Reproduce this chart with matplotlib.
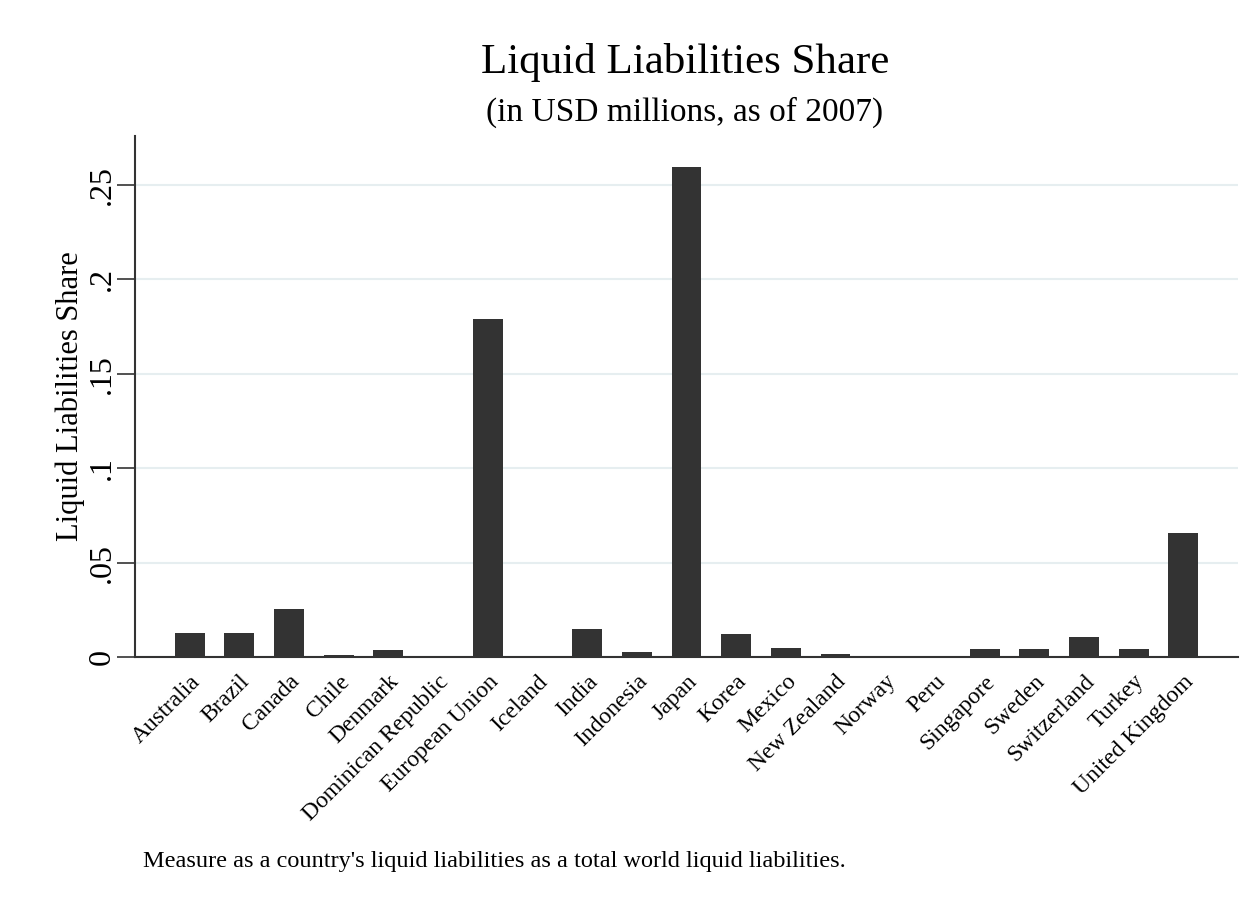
import matplotlib
matplotlib.use("Agg")
import matplotlib.pyplot as plt

countries = ["Australia", "Brazil", "Canada", "Chile", "Denmark", "Dominican Republic",
             "European Union", "Iceland", "India", "Indonesia", "Japan", "Korea", "Mexico",
             "New Zealand", "Norway", "Peru", "Singapore", "Sweden", "Switzerland",
             "Turkey", "United Kingdom"]
shares = [0.0127, 0.0127, 0.0256, 0.0010, 0.0035, 0.0005, 0.179, 0.0, 0.0148, 0.0025,
          0.2595, 0.0122, 0.0048, 0.0017, 0.0, 0.0005, 0.0042, 0.0042, 0.0106, 0.0042, 0.0657]
yticks = [0, 0.05, 0.10, 0.15, 0.20, 0.25]
yticklabels = ["0", ".05", ".1", ".15", ".2", ".25"]

plt.rcParams['font.family'] = ['Liberation Serif', 'DejaVu Serif']

fig = plt.figure(figsize=(12.51, 9.09), dpi=100)
ax = fig.add_axes([135/1251, 1-657/909, (1238-135)/1251, (657-136)/909])

x = list(range(len(countries)))
ax.bar(x, shares, width=0.6, color="#333333", zorder=3)

ax.set_xlim(-1.1, len(countries) - 1 + 1.1)
ax.set_ylim(0, 0.276)
ax.set_yticks(yticks)
ax.set_yticklabels(yticklabels, rotation=90, va='center', fontsize=23)
ax.yaxis.grid(True, color="#e6eef0", linewidth=1.5, zorder=0)
ax.set_axisbelow(True)
ax.tick_params(axis='y', length=13, width=1.2, color="#333333", pad=0)
ax.tick_params(axis='x', length=0, pad=10)
ax.set_xticks(x)
ax.set_xticklabels(countries, rotation=45, ha='right', rotation_mode='anchor', fontsize=17)
for s in ['top', 'right']:
    ax.spines[s].set_visible(False)
for s in ['left', 'bottom']:
    ax.spines[s].set_color("#333333")
    ax.spines[s].set_linewidth(1.5)
ax.set_ylabel("Liquid Liabilities Share", fontsize=22, labelpad=2)

fig.text(685/1251, 1-62/909, "Liquid Liabilities Share", ha='center', va='center', fontsize=31)
fig.text(685/1251, 1-112/909, "(in USD millions, as of 2007)", ha='center', va='center', fontsize=24)
fig.text(143/1251, 1-862/909, "Measure as a country's liquid liabilities as a total world liquid liabilities.",
         ha='left', va='center', fontsize=17.5)

fig.savefig("out.png", dpi=100)
